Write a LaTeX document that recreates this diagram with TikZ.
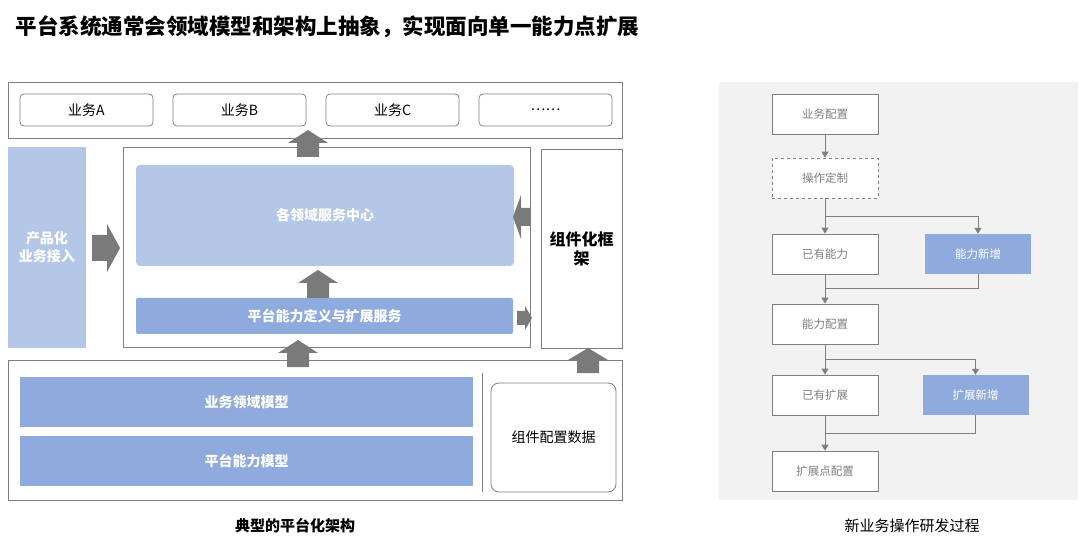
\documentclass[tikz,border=0pt]{standalone}
\usepackage{fontspec}
\setmainfont{Noto Sans CJK SC}
\usetikzlibrary{calc,arrows.meta}
\definecolor{lineGray}{HTML}{7F7F7F}
\definecolor{lightBlue}{HTML}{B4C7E7}
\definecolor{midBlue}{HTML}{8FAADC}
\definecolor{panelGray}{HTML}{F2F2F2}
\definecolor{arrowGray}{HTML}{7A7A7A}
% fat arrows: tip x, tip y, head length, half head, half shaft, total length
\newcommand{\fatup}[6]{\fill[arrowGray] (#1,#2) -- ++(#4,#3) -- ++(-#4+#5,0) -- ++(0,#6-#3) -- ++(-2*#5,0) -- ++(0,-#6+#3) -- ++(-#4+#5,0) -- cycle;}
\newcommand{\fatright}[6]{\fill[arrowGray] (#1,#2) -- ++(-#3,#4) -- ++(0,-#4+#5) -- ++(-#6+#3,0) -- ++(0,-2*#5) -- ++(#6-#3,0) -- ++(0,-#4+#5) -- cycle;}
\newcommand{\fatleft}[6]{\fill[arrowGray] (#1,#2) -- ++(#3,#4) -- ++(0,-#4+#5) -- ++(#6-#3,0) -- ++(0,-2*#5) -- ++(-#6+#3,0) -- ++(0,-#4+#5) -- cycle;}
\tikzset{
  frame/.style={draw=lineGray, line width=0.8pt, fill=white},
  biz/.style={draw=lineGray, line width=0.8pt, rounded corners=4pt, fill=white, minimum width=133, minimum height=32, font=\fontsize{14}{16}\selectfont},
  bluebox/.style={fill=midBlue, text=white, font=\bfseries\fontsize{14}{16}\selectfont},
  procstep/.style={draw=lineGray, line width=0.8pt, fill=white, minimum width=106, minimum height=40, text=lineGray, font=\fontsize{11.5}{13}\selectfont},
  newstep/.style={fill=midBlue, minimum width=106, minimum height=40, text=white, font=\fontsize{11.5}{13}\selectfont},
  flow/.style={draw=lineGray, line width=1pt, -{Triangle[length=6pt,width=7pt]}},
  link/.style={draw=lineGray, line width=1pt},
}
\begin{document}
\begin{tikzpicture}[x=1pt,y=-1pt]
\useasboundingbox (0,0) rectangle (1080,548);

% title
\node[anchor=west, font=\bfseries\fontsize{21.5}{25}\selectfont] (title) at (12,27) {平台系统通常会领域模型和架构上抽象，实现面向单一能力点扩展};

% left: business row
\node[frame, minimum width=614, minimum height=56] (bizrow) at (315,110) {};
\node[biz] (bizA) at (86.5,110) {业务A};
\node[biz] (bizB) at (239.5,110) {业务B};
\node[biz] (bizC) at (392.5,110) {业务C};
\node[biz] (bizD) at (545.5,110) {……};

% left: middle row
\node[fill=lightBlue, minimum width=78, minimum height=201, text=white, align=center, font=\bfseries\fontsize{14}{18}\selectfont] (access) at (47,247.5) {产品化\\业务接入};
\node[frame, minimum width=407, minimum height=200] (center) at (326.5,247) {};
\node[fill=lightBlue, rounded corners=4pt, minimum width=378, minimum height=101, text=white, font=\bfseries\fontsize{14}{16}\selectfont] (domain) at (325,215.5) {各领域服务中心};
\node[bluebox, rounded corners=2pt, minimum width=377, minimum height=36] (ability) at (324.5,316) {平台能力定义与扩展服务};
\node[frame, minimum width=81, minimum height=199, align=center, font=\bfseries\fontsize{16}{19}\selectfont] (comp) at (581.5,248.5) {组件化框\\架};

% left: bottom row
\node[frame, minimum width=614, minimum height=140] (model) at (315,430) {};
\node[bluebox, minimum width=453, minimum height=50] (bizmodel) at (246.5,402) {业务领域模型};
\node[bluebox, minimum width=453, minimum height=50] (abmodel) at (246.5,461) {平台能力模型};
\draw[lineGray, line width=0.8pt] (482,373) -- (482,492);
\node[draw=lineGray, line width=0.8pt, rounded corners=8pt, minimum width=125, minimum height=109, font=\fontsize{14}{16}\selectfont] (compdata) at (553.5,437.5) {组件配置数据};

% fat arrows
\fatup{308}{130}{13}{20}{11}{27}
\fatup{318}{270}{13}{20}{11}{28}
\fatup{298}{340}{13}{20}{11}{27}
\fatup{588}{348}{12}{20}{11}{25}
\fatright{120}{248}{13}{24}{13}{28}
\fatleft{513}{217}{8}{22}{9}{17}
\fatright{532}{318}{7}{12}{7}{15}

\node[font=\bfseries\fontsize{15}{18}\selectfont] (leftcap) at (295,526) {典型的平台化架构};

% right: process
\fill[panelGray] (719,82) rectangle (1078,500);
\node[procstep] (cfg) at (825,114) {业务配置};
\node[procstep, dashed] (cust) at (825,178) {操作定制};
\node[procstep] (hasab) at (825,254) {已有能力};
\node[newstep] (newab) at (978,254) {能力新增};
\node[procstep] (abcfg) at (825,324) {能力配置};
\node[procstep] (hasext) at (825,395) {已有扩展};
\node[newstep] (newext) at (975.5,395) {扩展新增};
\node[procstep] (extcfg) at (825,471) {扩展点配置};

\draw[flow] (cfg) -- (cust);
\draw[flow] (cust) -- (hasab);
\draw[flow] (cust.south) -- ++(0,18) -| (newab.north);
\draw[flow] (hasab) -- (abcfg);
\draw[link] (newab.south) |- ($(hasab.south)!0.5!(abcfg.north)$);
\draw[flow] (abcfg) -- (hasext);
\draw[flow] (abcfg.south) -- ++(0,15) -| (newext.north);
\draw[flow] (hasext) -- (extcfg);
\draw[link] (newext.south) |- ($(hasext.south)!0.5!(extcfg.north)$);

\node[font=\fontsize{15}{18}\selectfont] (rightcap) at (912,526) {新业务操作研发过程};
\end{tikzpicture}
\end{document}
